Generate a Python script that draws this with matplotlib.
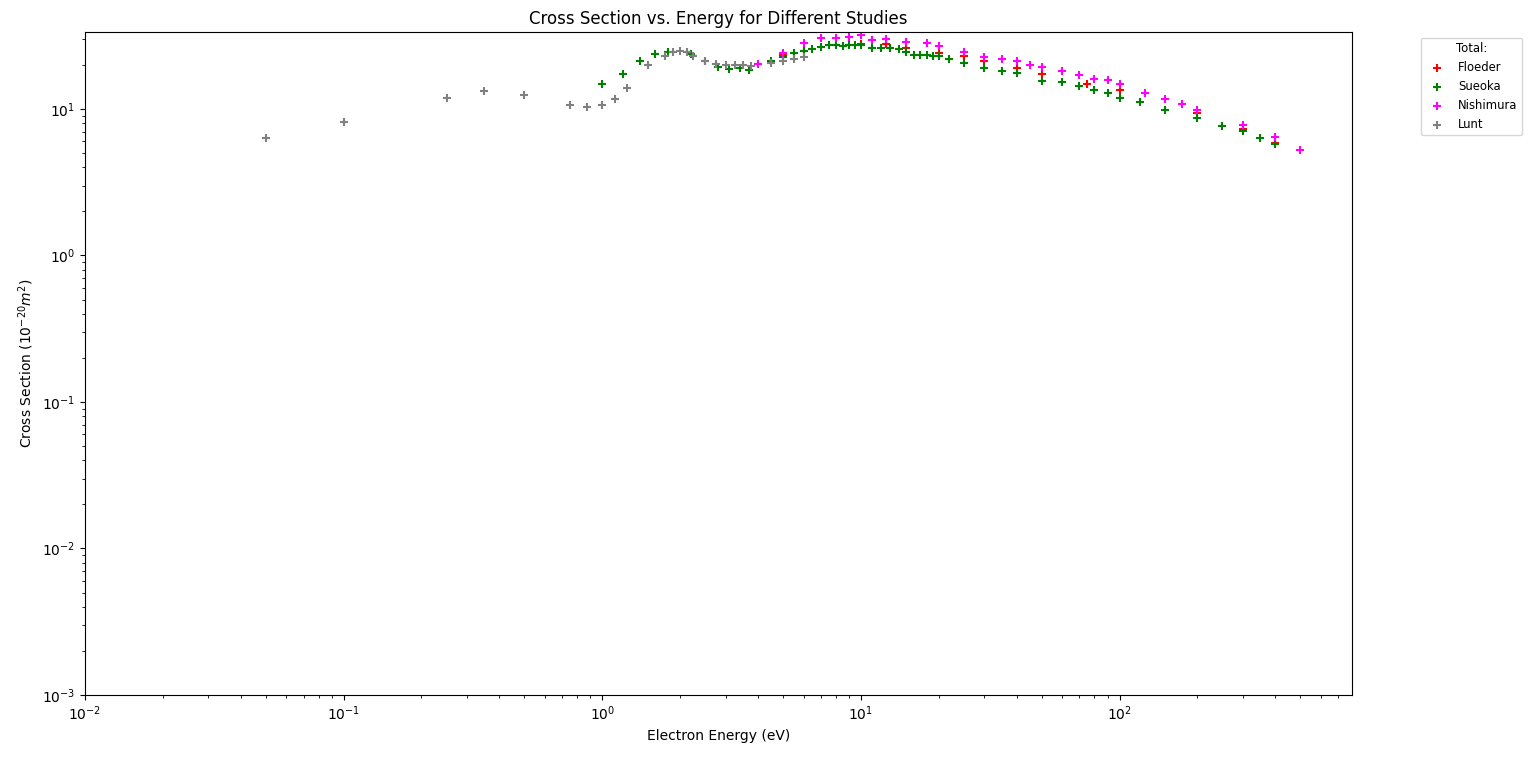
import matplotlib
matplotlib.use("Agg")
import matplotlib.pyplot as plt

floeder_E = [5, 6, 10, 12.5, 15, 20, 25, 30, 40, 50, 75, 100, 200, 300, 400]
floeder_cs = [23.3, 24.7, 27.9, 27.8, 26.0, 24.2, 23.0, 21.2, 19.1, 17.4, 14.8, 13.4, 9.4, 7.25, 5.87]

sueoka_E = [1.0, 1.2, 1.4, 1.6, 1.8, 2.2, 2.5, 2.8, 3.1, 3.4, 3.7, 4.5, 5.0, 5.5, 6.0, 6.5,
            7.0, 7.5, 8.0, 8.5, 9.0, 9.5, 10, 11, 12, 13, 14, 15, 16, 17, 18, 19, 20, 22,
            25, 30, 35, 40, 50, 60, 70, 80, 90, 100, 120, 150, 200, 250, 300, 350, 400]
sueoka_cs = [14.7, 17.2, 21.2, 23.6, 24.4, 23.6, 21.1, 19.4, 18.8, 19.1, 18.5, 21.3, 22.7, 23.9, 24.9, 25.6,
             26.6, 27.4, 27.2, 27.0, 27.4, 27.4, 27.5, 26.0, 26.0, 26.0, 25.6, 24.3, 23.5, 23.5, 23.5, 23.0, 23.0, 21.8,
             20.7, 19.1, 18.1, 17.6, 15.4, 15.3, 14.3, 13.4, 12.9, 11.9, 11.1, 9.9, 8.7, 7.6, 7.07, 6.3, 5.72]

nishimura_E = [4, 5, 6, 7, 8, 9, 10, 11, 12.5, 15, 18, 20, 25, 30, 35, 40, 45, 50, 60, 70, 80, 90,
               100, 125, 150, 175, 200, 300, 400, 500]
nishimura_cs = [20.4, 24.2, 28.4, 30.5, 30.5, 31.1, 31.8, 29.5, 30.0, 28.6, 28.4, 27.0, 24.4, 22.7, 21.8, 21.3,
                19.9, 19.4, 18.1, 17.0, 16.0, 15.7, 14.9, 12.9, 11.7, 10.8, 9.8, 7.77, 6.46, 5.23]

lunt_E = [0.05, 0.1, 0.25, 0.35, 0.5, 0.75, 0.875, 1.0, 1.125, 1.25, 1.5, 1.75, 1.875, 2.0, 2.125,
          2.25, 2.5, 2.75, 3.0, 3.25, 3.5, 3.75, 4.5, 5.0, 5.5, 6.0]
lunt_cs = [6.3, 8.1, 11.8, 13.2, 12.5, 10.6, 10.35, 10.6, 11.6, 14.0, 19.8, 22.9, 24.5, 25.0, 24.4,
           23.1, 21.4, 20.2, 20.0, 19.9, 20.0, 19.7, 20.6, 21.2, 21.8, 22.5]

fig = plt.figure(figsize=(15.36, 7.62), dpi=100)
ax = fig.add_axes([85/1536, 1 - 695/762, (1352-85)/1536, (695-32)/762])

ax.scatter(floeder_E, floeder_cs, marker='+', color='red', label='Floeder')
ax.scatter(sueoka_E, sueoka_cs, marker='+', color='green', label='Sueoka')
ax.scatter(nishimura_E, nishimura_cs, marker='+', color='magenta', label='Nishimura')
ax.scatter(lunt_E, lunt_cs, marker='+', color='gray', label='Lunt')

ax.set_xscale('log')
ax.set_yscale('log')
ax.set_xlim(left=1e-2)
ax.set_ylim(1e-3, 33.5)
ax.set_xlabel('Electron Energy (eV)')
ax.set_ylabel(r'Cross Section ($10^{-20} m^2$)')
ax.set_title('Cross Section vs. Energy for Different Studies')
ax.legend(title='Total:', fontsize='small', title_fontsize='small',
          bbox_to_anchor=(1.05, 1), loc='upper left')

fig.savefig('out.png', dpi=100)
